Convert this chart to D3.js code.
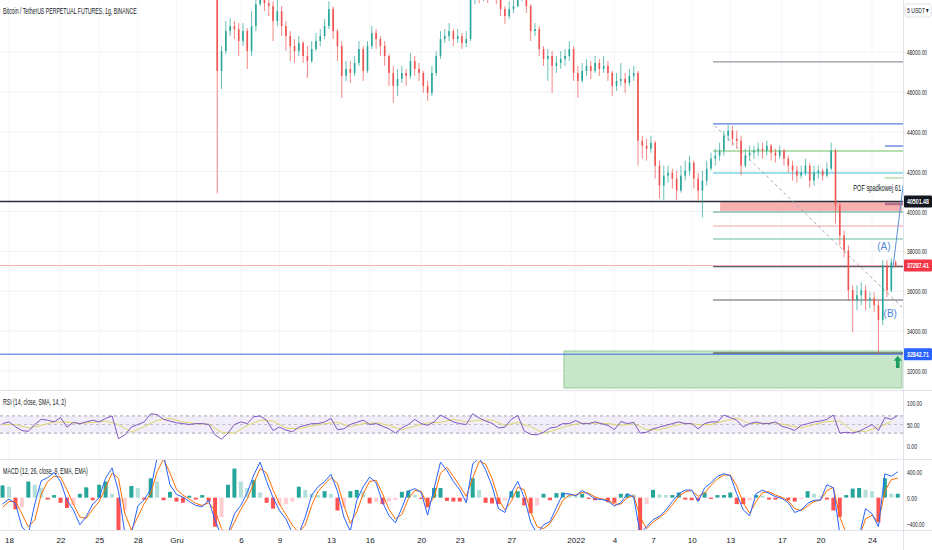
<!DOCTYPE html>
<html>
<head>
<meta charset="utf-8">
<script src="https://cdn.jsdelivr.net/npm/d3@7"></script>
<style>
  body { margin: 0; background: #fff; }
  svg { display: block; }
  text { font-family: "Liberation Sans Narrow", "Liberation Sans", Roboto, sans-serif; fill: #131722; }
  .axis path, .axis line { display: none; }
</style>
</head>
<body>
<svg id="chart" width="932" height="550"></svg>
<script>
// ---- values ----
// 8h candles, BTCUSDT perp, starting 4 Dec 2021 (earlier bars sit above the visible range)
var candleStart = new Date(2021, 11, 4, 0);
var candleHours = 8;
var openP = [53500,47050,48050,49050,49300,49150,48550,49050,48050,49300,
  50400,51050,50450,50300,49550,50050,49300,48800,48300,48050,
  48450,47800,47550,48150,48550,48800,49300,50150,49050,48300,
  46800,47150,46950,47450,48150,47050,48300,48950,48650,48300,
  47800,46950,46300,46650,46950,46800,47550,47150,46950,46300,
  45950,46950,47800,48650,48800,49050,48650,48800,48450,48650,
  50650,51300,51050,51150,50950,51300,50800,50150,49800,50150,
  50300,50800,50950,50300,49050,49150,48150,47650,47800,47300,
  47450,47650,47800,48150,46950,46550,47050,47300,47050,47450,
  47150,47300,46950,46300,46550,46650,46450,46800,46950,43550,
  43300,43150,43450,42300,41300,41800,41950,41650,41050,41800,
  42050,42450,41650,41050,41550,42150,42650,42800,43050,43800,
  44050,43650,43550,42300,42800,42950,43050,43150,43050,43300,
  42950,42800,43050,42650,42300,42050,41800,41950,42300,41550,
  41950,42050,41800,42150,43050,40300,38800,38050,36050,35550,
  35800,36050,35550,35650,35300,34550,37300,36050,37450];
var highP = [53900,48300,49550,49700,49550,49450,49450,49200,50050,50800,
  51550,51300,50800,50550,50800,50300,49550,49050,48650,48800,
  48550,48300,48550,48950,49150,49650,50550,50300,49150,48550,
  47550,47550,47800,48550,48300,48550,49300,49150,48800,48550,
  47900,47300,47150,47300,47150,47950,47800,47450,47050,46550,
  47300,48050,49050,49150,49450,49150,49150,48950,49050,51050,
  51800,51550,51800,51550,51800,51550,50900,50300,50550,50800,
  51300,51550,51150,50400,49450,49300,48300,48150,48050,47800,
  48050,48150,48550,48300,47300,47450,47650,47550,47800,47650,
  47800,47550,47050,46950,47450,46950,47150,47300,47050,43800,
  43650,43800,43550,42550,42300,42300,42150,42050,42300,42550,
  42800,42550,41950,42050,42550,42950,43150,43450,44050,44350,
  44300,44050,43800,43150,43300,43300,43450,43450,43550,43400,
  43150,43300,43150,42800,42550,42300,42300,42650,42450,42300,
  42300,42150,42450,43450,43150,40450,39050,38300,36300,36300,
  36450,36300,35950,35950,35550,37550,37550,37650,37550];
var lowP = [40900,46150,47900,48800,48650,47800,48300,47150,47800,49050,
  50300,50050,49800,48550,49300,48800,48050,47550,47450,47800,
  47450,46700,47450,48050,48300,48650,49150,48650,47550,45700,
  46550,46450,46800,47300,46550,46950,48150,48150,47800,47300,
  46300,45450,45800,46450,46300,46650,46800,46550,45950,45550,
  45800,46800,47650,48450,48550,48300,48450,48150,48250,48550,
  50400,50450,50550,50450,50700,50400,49800,49400,49650,49950,
  50250,50550,49950,48550,48800,47800,47300,46550,45950,46950,
  47150,47300,47550,46550,45700,46450,46800,46650,46950,46800,
  46950,46550,45800,46050,46300,45950,46300,46550,42300,42650,
  42550,42950,41650,40650,40550,41450,41150,40550,40950,41550,
  41800,41150,40550,39700,41300,42050,42300,42550,42800,43550,
  43300,43150,41800,42200,42550,42650,42800,42650,42800,42550,
  42450,42650,42300,41950,41550,41450,41650,41800,41200,41300,
  41650,41550,41700,42050,39400,38300,37700,35550,33950,35050,
  35300,35050,35150,34950,32850,34300,35700,35950,37200];
var closeP = [47050,48050,49050,49300,49150,48550,49050,48050,49300,50400,
  51050,50450,50300,49550,50050,49300,48800,48300,48050,48450,
  47800,47550,48150,48550,48800,49300,50150,49050,48300,46800,
  47150,46950,47450,48150,47050,48300,48950,48650,48300,47800,
  46950,46300,46650,46950,46800,47550,47150,46950,46300,45950,
  46950,47800,48650,48800,49050,48650,48800,48450,48650,50650,
  51300,51050,51150,50950,51300,50800,50150,49800,50150,50300,
  50800,50950,50300,49050,49150,48150,47650,47800,47300,47450,
  47650,47800,48150,46950,46550,47050,47300,47050,47450,47150,
  47300,46950,46300,46550,46650,46450,46800,46950,43550,43300,
  43150,43450,42300,41300,41800,41950,41650,41050,41800,42050,
  42450,41650,41050,41550,42150,42650,42800,43050,43800,44050,
  43650,43550,42300,42800,42950,43050,43150,43050,43300,42950,
  42800,43050,42650,42300,42050,41800,41950,42300,41550,41950,
  42050,41800,42150,43050,40300,38800,38050,36050,35550,35800,
  36050,35550,35650,35300,34550,37300,36050,37450,37290];

// indicators, one value every 12h from 17 Nov 2021 12:00
var indStart = new Date(2021, 10, 17, 12);
var indHours = 12;
var rsiVals = [52,56,45,36,34,50,62,60,56,66, 44,55,52,56,60,56,64,70,17,26,
  44,50,56,75,73,62,58,54,52,50, 52,52,50,26,16,30,50,56,52,68,
  70,60,36,44,37,33,44,48,52,52, 56,64,38,40,50,55,60,50,52,46,
  40,30,42,50,62,52,48,56,72,64, 56,52,50,75,65,58,53,42,44,62,
  71,35,27,26,32,42,44,52,52,59, 52,52,56,52,48,38,57,52,55,30,
  32,40,44,48,52,56,52,52,40,52, 56,56,72,66,60,44,52,56,52,52,
  56,46,42,36,48,52,56,58,62,72, 30,32,30,34,42,50,36,66,62,71];
// RSI-based MA, one value every 24h
var rsiMaHours = 24;
var rsiMaVals = [50,50,42,48,56,56,52,55,58,50, 32,45,60,64,56,52,51,32,30,48,
  60,58,42,40,47,52,55,45,52,54, 48,38,46,54,55,62,56,60,60,48,
  55,45,30,38,48,53,53,52,48,52, 38,38,46,53,50,50,58,65,52,53,
  54,48,42,50,57,58,35,34,44,56];
var macdVals = [-100,-20,-90,-450,-560,-100,260,310,390,250,
  -40,-190,-420,-290,-100,0,300,460,100,-560,
  -560,-130,-30,130,620,650,200,50,10,-60,
  -120,-140,-40,-350,-600,-560,-250,-120,80,350,
  550,250,0,-200,-330,-550,-560,-300,40,170,
  250,360,100,-300,-520,-40,170,320,230,-70,
  -280,-390,-160,100,140,80,-270,140,550,420,
  250,120,-80,520,620,430,180,-170,-230,80,
  250,0,-380,-560,-420,-370,-150,60,60,30,
  110,50,-20,-30,-50,-130,-80,60,10,-560,
  -450,-340,-290,-190,-60,60,118,118,-60,150,
  230,330,370,340,60,-190,-280,60,118,67,
  15,-10,-80,-230,-190,-90,-40,-36,200,150,
  -560,-620,-620,-600,-170,-250,-450,370,330,400];
var signalVals = [-150,-60,-60,-250,-450,-350,50,250,330,320,
  120,-100,-300,-320,-180,-60,150,380,300,-250,
  -500,-300,-90,60,400,600,380,130,40,-20,
  -90,-120,-80,-200,-480,-580,-380,-180,-20,220,
  450,380,120,-100,-260,-430,-540,-420,-120,100,
  210,310,220,-120,-400,-220,60,250,270,60,
  -180,-330,-260,-20,110,100,-120,0,380,470,
  330,180,20,300,560,520,300,-20,-190,-60,
  160,120,-220,-450,-480,-400,-240,-40,40,40,
  80,70,10,-20,-40,-100,-100,0,30,-300,
  -480,-380,-310,-230,-110,20,90,110,20,70,
  190,290,350,350,180,-80,-240,-60,80,90,
  40,5,-50,-170,-200,-130,-60,-40,110,160,
  -300,-560,-610,-610,-330,-270,-380,100,280,300];
var histVals = [190,170,-180,-150,250,200,150,-30,40,-80,
  -160,-120,60,160,-40,200,250,60,-500,-200,
  180,150,-30,300,250,-40,90,-60,-80,30,
  -30,40,-60,-450,-300,200,450,250,150,270,
  80,-80,-170,-120,-100,-60,170,120,60,40,
  100,60,-200,-150,100,120,100,-90,-70,-100,
  -60,-40,90,110,40,-20,-150,150,150,-50,
  -60,-60,-50,300,120,-80,-90,-100,-40,100,
  100,-120,-240,-120,60,-40,70,80,50,40,
  60,-20,-40,-30,-70,-80,60,60,50,-500,
  -100,120,50,40,40,80,-30,-40,-40,80,
  -20,40,40,80,-100,-100,-40,40,30,-30,
  -30,-20,-40,-60,-20,100,60,20,-30,-200,
  -300,40,140,150,120,100,-380,300,60,60];

// axis ticks
var timeTicks = ["2021-11-18","2021-11-22","2021-11-25","2021-11-28","2021-12-01","2021-12-06",
  "2021-12-09","2021-12-13","2021-12-16","2021-12-20","2021-12-23","2021-12-27","2022-01-01",
  "2022-01-04","2022-01-07","2022-01-10","2022-01-13","2022-01-17","2022-01-20","2022-01-24"];
var timeLabels = ["18","22","25","28","Gru","6","9","13","16","20","23","27","2022","4","7","10","13","17","20","24"];
var priceTicks = [48000,46000,44000,42000,40000,38000,36000,34000,32000];
var rsiTicks = [100, 50, 0];
var rsiBands = [70, 50, 30];
var macdTicks = [400, 0, -400];

// price marks on the scale
var markPrice = 40501.48, lastPrice = 37287.41, supportPrice = 32842.71;

// drawings: horizontal rays starting 11 Jan, short rays starting 25 Jan
var rayStart = "2022-01-11 16";
var rayPrices = [47500, 44390, 43035, 41931, 39975, 39273, 38621, 37240, 35561, 32903];
var shortRayStart = "2022-01-25 00";
var shortRayPrices = [43285, 41680, 40376];
var pinkZone = { start: "2022-01-12 05", top: 40470, bottom: 40030 };
var greenZone = { start: "2021-12-31 02", top: 33003, bottom: 31148 };
var trendDates = ["2022-01-11 19", "2022-01-26 08"], trendPrices = [44300, 35200];
var waveDates = ["2022-01-25 15", "2022-01-26 10"], wavePrices = [37166, 41330];
var waveLabels = ["(A)", "(B)"], waveLabelDates = ["2022-01-24 22", "2022-01-25 10"], waveLabelPrices = [38220, 34860];
var noteText = "POF spadkowej 61", noteDate = "2022-01-22 13", notePrice = 41030;
var arrowDate = "2022-01-26 00", arrowTop = 32760, arrowBottom = 32150;

// ---- styles ----
var rayColors = ["#9598a1", "#5b7fde", "#6cbf5a", "#3ec6d6", "#4aa37f", "#f2a0a6", "#67bf9c", "#5d5d66", "#5d5d66", "#3a3a42"];
var shortRayColors = ["#4f6fd6", "#a5d79a", "#b4708a"];
var upCol = "#26a69a", downCol = "#ef5350";

var svg = d3.select("#chart");
var plotRight = 903;
var parseDay = d3.timeParse("%Y-%m-%d");
var parseHour = d3.timeParse("%Y-%m-%d %H");

function addHours(d, h) { return new Date(d.getTime() + h * 3600000); }

// squeeze a text horizontally to a given width (the narrow UI font is not installed)
function squeeze(node, width) {
  var t = d3.select(node);
  var len = node.getComputedTextLength();
  if (!len) return;
  var s = width / len;
  var x0 = +t.attr("x") || 0;
  t.attr("x", 0).attr("transform", "translate(" + x0 + ",0) scale(" + s + ",1)");
}

var x = d3.scaleTime()
  .domain([new Date(2021, 10, 18), new Date(2022, 0, 24)])
  .range([9, 872]);
var yPrice = d3.scaleLinear().domain([32000, 48000]).range([371, 52]);
var yRsi = d3.scaleLinear().domain([0, 100]).range([446, 403]);
var yMacd = d3.scaleLinear().domain([-400, 400]).range([523.5, 471.8]);

var defs = svg.append("defs");
function clip(id, y0, h) {
  defs.append("clipPath").attr("id", id).append("rect")
    .attr("x", 0).attr("y", y0).attr("width", plotRight).attr("height", h);
}
clip("clipMain", 0, 390);
clip("clipRsi", 391, 68);
clip("clipMacd", 460, 70);

var tickDates = timeTicks.map(parseDay);

// grid
var grid = svg.append("g");
grid.selectAll("line.v").data(tickDates).enter().append("line")
  .attr("x1", d => x(d)).attr("x2", d => x(d)).attr("y1", 0).attr("y2", 530)
  .attr("stroke", "#f5f7fa").attr("stroke-width", 1);
grid.selectAll("line.h").data(priceTicks).enter().append("line")
  .attr("x1", 0).attr("x2", plotRight).attr("y1", d => yPrice(d)).attr("y2", d => yPrice(d))
  .attr("stroke", "#eef1f6").attr("stroke-width", 1);

// ---------- main pane ----------
var main = svg.append("g").attr("clip-path", "url(#clipMain)");

// green zone
main.append("rect")
  .attr("x", x(parseHour(greenZone.start))).attr("y", yPrice(greenZone.top))
  .attr("width", plotRight - 1 - x(parseHour(greenZone.start)))
  .attr("height", yPrice(greenZone.bottom) - yPrice(greenZone.top))
  .attr("fill", "#c8e6c9").attr("stroke", "#86c28a").attr("stroke-width", 0.8);

// pink zone
main.append("rect")
  .attr("x", x(parseHour(pinkZone.start))).attr("y", yPrice(pinkZone.top))
  .attr("width", plotRight - 1 - x(parseHour(pinkZone.start)))
  .attr("height", yPrice(pinkZone.bottom) - yPrice(pinkZone.top))
  .attr("fill", "#f7b0b0");

// full-width lines
main.append("line").attr("x1", 0).attr("x2", plotRight)
  .attr("y1", yPrice(lastPrice)).attr("y2", yPrice(lastPrice))
  .attr("stroke", "#f6a9ae").attr("stroke-width", 1);
main.append("line").attr("x1", 0).attr("x2", plotRight)
  .attr("y1", yPrice(supportPrice)).attr("y2", yPrice(supportPrice))
  .attr("stroke", "#3d6ae8").attr("stroke-width", 1);

// rays
main.selectAll("line.ray").data(rayPrices).enter().append("line")
  .attr("x1", x(parseHour(rayStart))).attr("x2", plotRight)
  .attr("y1", d => yPrice(d)).attr("y2", d => yPrice(d))
  .attr("stroke", (d, i) => rayColors[i]).attr("stroke-width", 1.2);
main.selectAll("line.sray").data(shortRayPrices).enter().append("line")
  .attr("x1", x(parseHour(shortRayStart))).attr("x2", plotRight)
  .attr("y1", d => yPrice(d)).attr("y2", d => yPrice(d))
  .attr("stroke", (d, i) => shortRayColors[i]).attr("stroke-width", (d, i) => i == 2 ? 2.5 : 1.2);

main.append("line").attr("x1", 0).attr("x2", plotRight)
  .attr("y1", yPrice(markPrice)).attr("y2", yPrice(markPrice))
  .attr("stroke", "#2a2e39").attr("stroke-width", 1.4);

// dashed trend line
main.append("line")
  .attr("x1", x(parseHour(trendDates[0]))).attr("y1", yPrice(trendPrices[0]))
  .attr("x2", x(parseHour(trendDates[1]))).attr("y2", yPrice(trendPrices[1]))
  .attr("stroke", "#a3a6ae").attr("stroke-width", 1).attr("stroke-dasharray", "3,3");

// candles
var candles = closeP.map(function(c, i) {
  return { t: addHours(candleStart, i * candleHours + candleHours / 2), o: openP[i], h: highP[i], l: lowP[i], c: c };
});
var cg = main.append("g");
cg.selectAll("line.wick").data(candles).enter().append("line")
  .attr("x1", d => x(d.t)).attr("x2", d => x(d.t))
  .attr("y1", d => yPrice(d.h)).attr("y2", d => yPrice(d.l))
  .attr("stroke", d => d.c >= d.o ? upCol : downCol).attr("stroke-width", 0.7);
cg.selectAll("rect.body").data(candles).enter().append("rect")
  .attr("x", d => x(d.t) - 0.8).attr("width", 1.6)
  .attr("y", d => yPrice(Math.max(d.o, d.c)))
  .attr("height", d => Math.max(0.8, Math.abs(yPrice(d.o) - yPrice(d.c))))
  .attr("fill", d => d.c >= d.o ? upCol : downCol);

// wave path and labels
main.append("line")
  .attr("x1", x(parseHour(waveDates[0]))).attr("y1", yPrice(wavePrices[0]))
  .attr("x2", x(parseHour(waveDates[1]))).attr("y2", yPrice(wavePrices[1]))
  .attr("stroke", "#5b8fd9").attr("stroke-width", 1);
main.selectAll("text.wave").data(waveLabels).enter().append("text")
  .attr("x", (d, i) => x(parseHour(waveLabelDates[i])))
  .attr("y", (d, i) => yPrice(waveLabelPrices[i]))
  .attr("dy", "0.35em").attr("text-anchor", "middle")
  .style("font-size", "10px").style("fill", "#4f86d8").text(d => d);

main.append("text")
  .attr("x", x(parseHour(noteDate))).attr("y", yPrice(notePrice))
  .style("font-size", "9px").text(noteText)
  .each(function() { squeeze(this, 48); });

// green arrow
var ax = x(parseHour(arrowDate)), aTop = yPrice(arrowTop), aBot = yPrice(arrowBottom);
main.append("path")
  .attr("d", "M" + ax + "," + aTop + " L" + (ax + 4) + "," + (aTop + 5) + " L" + (ax + 1.8) + "," + (aTop + 5) +
    " L" + (ax + 1.8) + "," + aBot + " L" + (ax - 1.8) + "," + aBot + " L" + (ax - 1.8) + "," + (aTop + 5) +
    " L" + (ax - 4) + "," + (aTop + 5) + "Z")
  .attr("fill", "#1e9e61");

svg.append("text").attr("x", 3).attr("y", 14.5)
  .style("font-size", "9px").text("Bitcoin / TetherUS PERPETUAL FUTURES, 1g, BINANCE")
  .each(function() { squeeze(this, 134); });

// ---------- RSI pane ----------
var rsiG = svg.append("g").attr("clip-path", "url(#clipRsi)");
rsiG.append("rect").attr("x", 0).attr("width", plotRight)
  .attr("y", yRsi(70)).attr("height", yRsi(30) - yRsi(70))
  .attr("fill", "rgba(126,87,194,0.1)");
rsiG.selectAll("line.band").data(rsiBands).enter().append("line")
  .attr("x1", 0).attr("x2", plotRight).attr("y1", d => yRsi(d)).attr("y2", d => yRsi(d))
  .attr("stroke", (d) => d == 50 ? "#b2b5be" : "#8d909a").attr("stroke-width", 0.8)
  .attr("stroke-dasharray", "3,3");
var rsiLine = d3.line().x((d, i) => x(addHours(indStart, i * indHours))).y(d => yRsi(d));
var rsiMaLine = d3.line().x((d, i) => x(addHours(indStart, i * rsiMaHours))).y(d => yRsi(d));
rsiG.append("path").datum(rsiMaVals).attr("d", rsiMaLine)
  .attr("fill", "none").attr("stroke", "#ddd66a").attr("stroke-width", 1);
rsiG.append("path").datum(rsiVals).attr("d", rsiLine)
  .attr("fill", "none").attr("stroke", "#7e57c2").attr("stroke-width", 1);
svg.append("text").attr("x", 3).attr("y", 405.5)
  .style("font-size", "8.5px").text("RSI (14, close, SMA, 14, 2)")
  .each(function() { squeeze(this, 63); });

// ---------- MACD pane ----------
var macdG = svg.append("g").attr("clip-path", "url(#clipMacd)");
var hist = histVals.map(function(v, i) {
  var prev = i > 0 ? histVals[i - 1] : v;
  var col = v >= 0 ? (v >= prev ? "#26a69a" : "#b2dfdb") : (v <= prev ? "#ff5252" : "#ffcdd2");
  return { t: addHours(indStart, i * indHours), v: v, col: col };
});
macdG.selectAll("rect.hist").data(hist).enter().append("rect")
  .attr("x", d => x(d.t) - 2).attr("width", 4)
  .attr("y", d => yMacd(Math.max(0, d.v)))
  .attr("height", d => Math.abs(yMacd(d.v) - yMacd(0)))
  .attr("fill", d => d.col);
var macdLine = d3.line().x((d, i) => x(addHours(indStart, i * indHours))).y(d => yMacd(d));
macdG.append("path").datum(signalVals).attr("d", macdLine)
  .attr("fill", "none").attr("stroke", "#ff6d00").attr("stroke-width", 1);
macdG.append("path").datum(macdVals).attr("d", macdLine)
  .attr("fill", "none").attr("stroke", "#2962ff").attr("stroke-width", 1);
svg.append("text").attr("x", 3).attr("y", 474.5)
  .style("font-size", "8.5px").text("MACD (12, 26, close, 9, EMA, EMA)")
  .each(function() { squeeze(this, 85); });

// ---------- separators ----------
[390.5, 459.5, 530.5].forEach(function(yy) {
  svg.append("line").attr("x1", 0).attr("x2", 932).attr("y1", yy).attr("y2", yy)
    .attr("stroke", "#e0e3eb").attr("stroke-width", 1);
});
svg.append("line").attr("x1", plotRight + 0.5).attr("x2", plotRight + 0.5).attr("y1", 0).attr("y2", 550)
  .attr("stroke", "#e0e3eb").attr("stroke-width", 1);

// ---------- axes ----------
function styleAxis(g, size, perChar) {
  g.selectAll("text").style("font-size", size).style("fill", "#131722");
  if (perChar) {
    g.selectAll("text").each(function() {
      squeeze(this, d3.select(this).text().length * perChar);
    });
  }
}
var fmt = d3.format(".2f");
svg.append("g").attr("class", "axis").attr("transform", "translate(" + plotRight + ",0)")
  .call(d3.axisRight(yPrice).tickValues(priceTicks).tickFormat(fmt).tickSize(0).tickPadding(4))
  .call(styleAxis, "8px", 2.5);
svg.append("g").attr("class", "axis").attr("transform", "translate(" + plotRight + ",0)")
  .call(d3.axisRight(yRsi).tickValues(rsiTicks).tickFormat(fmt).tickSize(0).tickPadding(4))
  .call(styleAxis, "8px", 2.5);
svg.append("g").attr("class", "axis").attr("transform", "translate(" + plotRight + ",0)")
  .call(d3.axisRight(yMacd).tickValues(macdTicks).tickFormat(fmt).tickSize(0).tickPadding(4))
  .call(styleAxis, "8px", 2.5);
svg.append("g").attr("class", "axis").attr("transform", "translate(0,531)")
  .call(d3.axisBottom(x).tickValues(tickDates).tickFormat((d, i) => timeLabels[i]).tickSize(0).tickPadding(6))
  .call(styleAxis, "8px", 0);

// price labels on the scale
[[markPrice, "#131722"], [lastPrice, "#f23645"], [supportPrice, "#2962ff"]].forEach(function(p) {
  var yy = yPrice(p[0]);
  svg.append("rect").attr("x", plotRight + 1).attr("y", yy - 6).attr("width", 28).attr("height", 12)
    .attr("rx", 1).attr("fill", p[1]);
  svg.append("text").attr("x", plotRight + 4).attr("y", yy).attr("dy", "0.35em")
    .style("font-size", "8px").style("fill", "#fff").style("font-weight", "bold")
    .text(fmt(p[0]))
    .each(function() { squeeze(this, 22); });
});

// currency button
svg.append("rect").attr("x", 905).attr("y", 4).attr("width", 26).attr("height", 13).attr("rx", 2)
  .attr("fill", "#fff").attr("stroke", "#e0e3eb");
svg.append("text").attr("x", 907).attr("y", 13.5).style("font-size", "8px")
  .text("5 USDT ▾")
  .each(function() { squeeze(this, 22); });
</script>
</body>
</html>
